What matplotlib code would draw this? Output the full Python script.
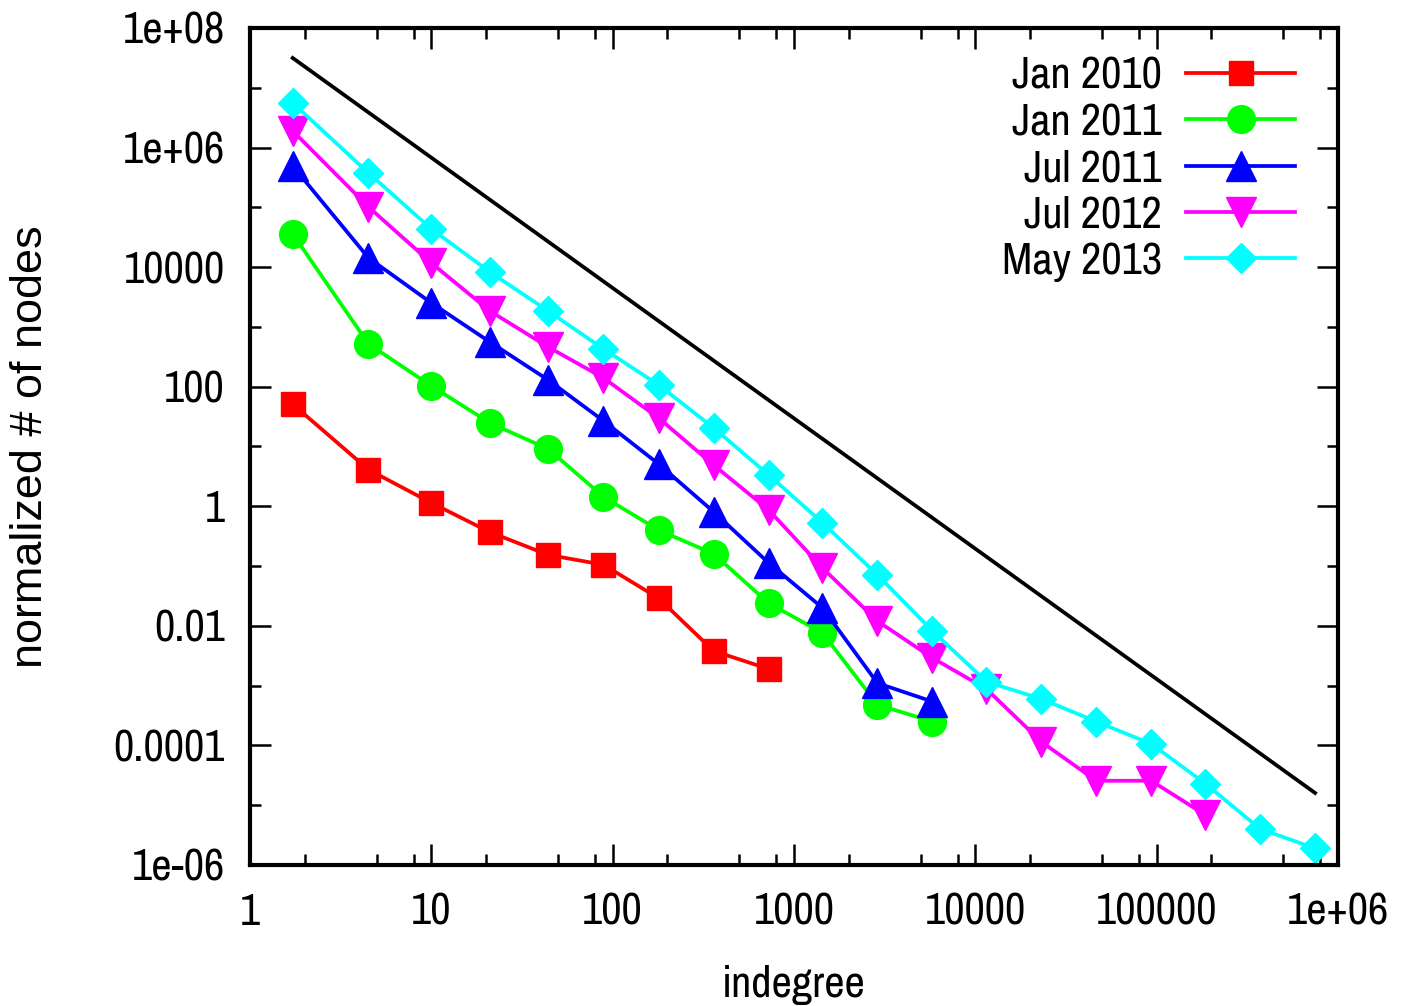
import numpy as np
import matplotlib.pyplot as plt

plt.rcParams['font.family'] = ['Liberation Sans Narrow', 'Nimbus Sans Narrow',
                               'Arial Narrow', 'Archivo Narrow', 'DejaVu Sans']
plt.rcParams['font.stretch'] = 'condensed'

# indegree bins (shared by all snapshots)
indegree = [1.72, 4.5, 10, 21, 44, 89, 179, 360, 724, 1435, 2884, 5800,
            11500, 23100, 46400, 93300, 185000, 372000, 747000]

jan2010 = [51, 4.1, 1.14, 0.37, 0.154, 0.105, 0.029, 0.0038, 0.0019]
jan2011 = [35900, 520, 103, 24.8, 9.1, 1.44, 0.40, 0.16, 0.024, 0.0076,
           0.00048, 0.00025]
jul2011 = [492000, 14300, 2520, 561, 130, 26.8, 5.1, 0.81, 0.113, 0.020,
           0.0011, 0.00054]
jul2012 = [1.9e6, 101600, 11700, 1850, 463, 140, 30, 4.9, 0.87, 0.093,
           0.012, 0.0029, 0.00088, 0.000115, 2.56e-5, 2.56e-5, 6.9e-6]
may2013 = [5.6e6, 376000, 43500, 8300, 1850, 428, 107, 20.5, 3.35, 0.53,
           0.071, 0.0082, 0.00116, 0.0006, 0.00025, 0.000106, 2.3e-5,
           4.0e-6, 1.9e-6]

# power-law guide line
ref_x = [1.72, 7.47e5]
ref_y = [3.15e7, 1.6e-5]

labels = ['Jan 2010', 'Jan 2011', 'Jul 2011', 'Jul 2012', 'May 2013']
series = [jan2010, jan2011, jul2011, jul2012, may2013]
colors = ['#ff0000', '#00ff00', '#0000ff', '#ff00ff', '#00ffff']
markers = ['s', 'o', '^', 'v', 'D']
msizes = [17, 20, 21, 21, 15.5]

xticks = [1, 10, 100, 1000, 1e4, 1e5, 1e6]
xticklabels = ['1', '10', '100', '1000', '10000', '100000', '1e+06']
yticks = [1e-6, 1e-4, 1e-2, 1, 100, 1e4, 1e6, 1e8]
yticklabels = ['1e-06', '0.0001', '0.01', '1', '100', '10000', '1e+06', '1e+08']

FS = 32
LW = 2.7

fig = plt.figure(figsize=(14.02, 10.06), dpi=100)
ax = fig.add_axes([0.1783, 0.1402, 0.7761, 0.832])

ax.plot(ref_x, ref_y, color='black', lw=LW)
for ys, c, m, ms in zip(series, colors, markers, msizes):
    ax.plot(indegree[:len(ys)], ys, color=c, marker=m, ms=ms, lw=LW,
            mec=c, clip_on=False)

ax.set_xscale('log')
ax.set_yscale('log')
ax.set_xlim(1, 1e6)
ax.set_ylim(1e-6, 1e8)

ax.set_xticks(xticks, xticklabels)
ax.set_yticks(yticks, yticklabels)
xminor = [d * k for d in [1, 10, 100, 1000, 1e4, 1e5] for k in (2, 5, 8)]
ax.set_xticks(xminor, minor=True)
ax.set_yticks([1e-5, 1e-3, 0.1, 10, 1000, 1e5, 1e7], minor=True)
ax.xaxis.set_minor_formatter(plt.NullFormatter())
ax.yaxis.set_minor_formatter(plt.NullFormatter())

ax.tick_params(which='both', direction='in', top=True, right=True,
               labelsize=FS, width=1.8)
ax.tick_params(which='major', length=15)
ax.tick_params(which='minor', length=8)
ax.tick_params(axis='x', which='major', pad=20)
ax.tick_params(axis='y', which='major', pad=18)
for s in ax.spines.values():
    s.set_linewidth(3)

ax.set_xlabel('indegree', fontsize=FS)
ax.set_ylabel('normalized # of nodes', fontsize=32.4,
              family=['Liberation Sans', 'DejaVu Sans'], stretch='normal')
ax.xaxis.set_label_coords(0.5, -0.12)
ax.yaxis.set_label_coords(-0.183, 0.5)

# gnuplot-style key: right-aligned labels, sample line to the right
key_top, key_step = 0.9462, 0.0553
for i, (lab, c, m, ms) in enumerate(zip(labels, colors, markers, msizes)):
    yk = key_top - i * key_step
    ax.plot([0.8603, 0.9605], [yk, yk], color=c, lw=LW,
            transform=ax.transAxes, clip_on=False)
    ax.plot([0.9104], [yk], color=c, marker=m, ms=ms, mec=c,
            transform=ax.transAxes, clip_on=False)
    ax.text(0.8382, yk - 0.0191, lab, ha='right', va='baseline',
            fontsize=FS, transform=ax.transAxes)

fig.savefig('out.png', dpi=100)
